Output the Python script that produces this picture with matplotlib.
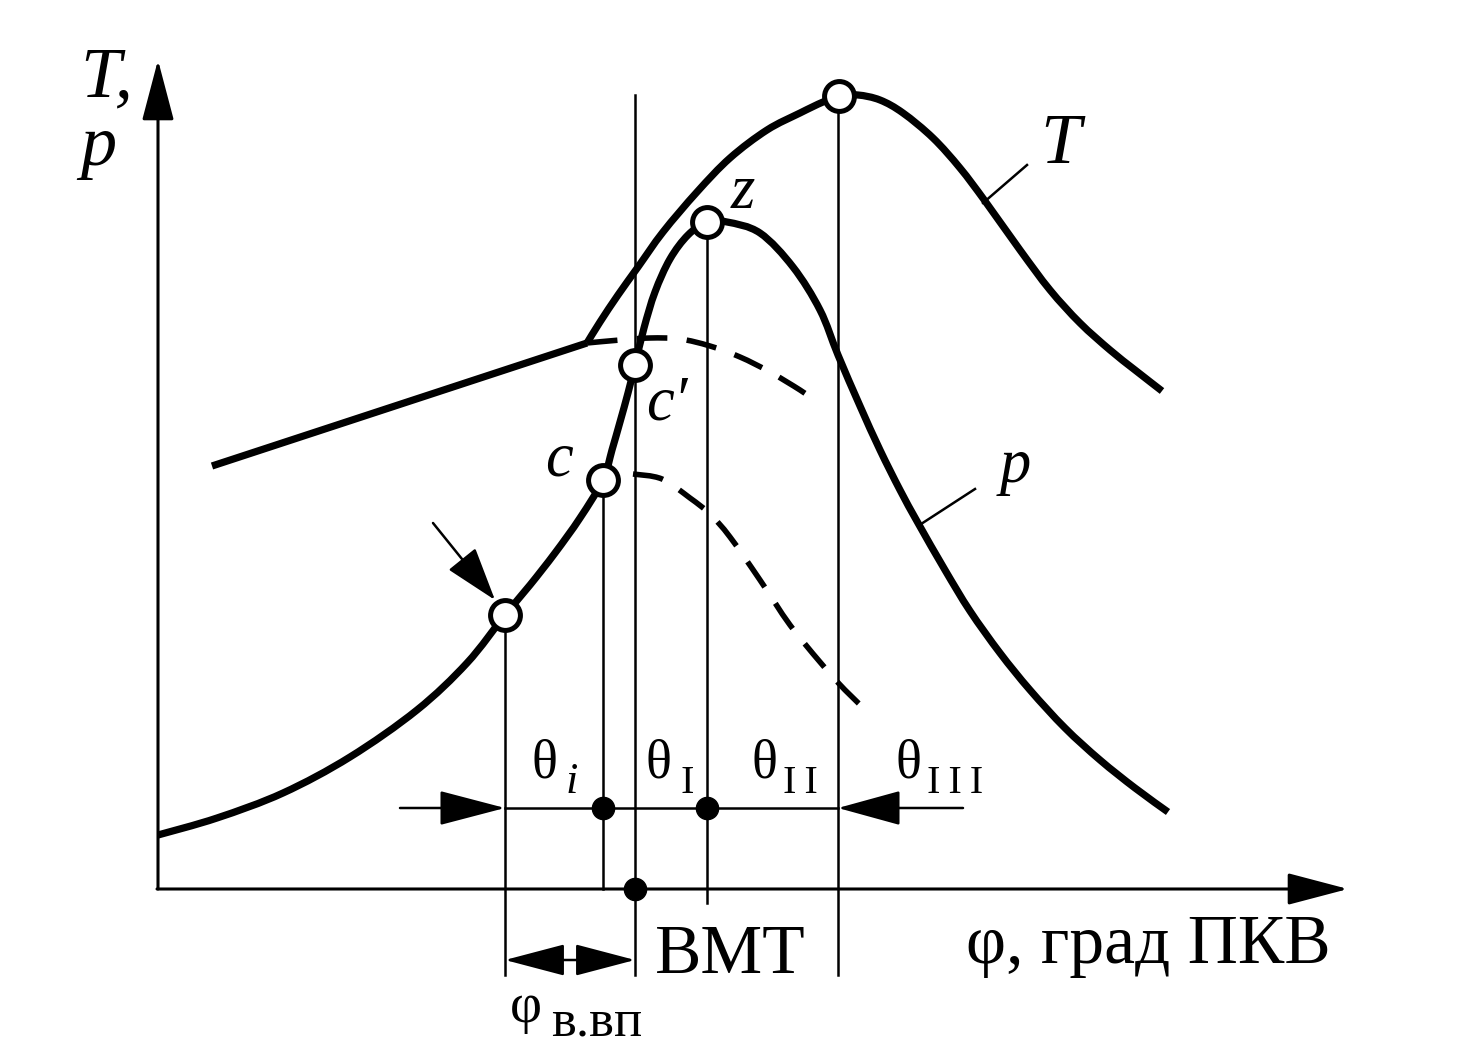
import matplotlib
matplotlib.use('Agg')
import matplotlib.pyplot as plt
from matplotlib.path import Path
from matplotlib.patches import PathPatch

# diagram is drawn in the pixel frame of the 1460x1063 reference (y grows downward)
W, H = 1460, 1063

# temperature: straight compression part, then the combustion hump
T_line_x = [212, 587]
T_line_y = [466, 343]
T_x = [587, 600, 618, 638, 663, 697, 730, 767, 800, 823, 840, 858, 880, 903, 933, 960, 985, 1020, 1050, 1080, 1110, 1135, 1162]
T_y = [343, 322, 295, 267, 232, 192, 158, 130, 113, 102, 96, 95, 100, 113, 138, 168, 201, 250, 290, 323, 350, 370, 391]

# pressure p
p_x = [158, 217, 283, 350, 417, 467, 505, 530, 555, 580, 603, 612, 620, 628, 635, 644, 655, 670, 688, 707,
       727, 760, 793, 820, 838, 860, 880, 900, 918, 945, 970, 1000, 1030, 1065, 1100, 1135, 1168]
p_y = [835, 818, 793, 757, 710, 663, 615, 585, 553, 518, 480, 450, 422, 393, 365, 328, 292, 259, 235, 222,
       222, 233, 267, 310, 355, 406, 450, 490, 523, 570, 611, 653, 690, 728, 760, 788, 812]

# motoring (no combustion) curves, dashed
T_mot_x = [587, 620, 650, 680, 710, 740, 770, 800, 816]
T_mot_y = [343, 340, 338, 339, 346, 357, 372, 390, 401]
p_mot_x = [633, 662, 690, 710, 730, 760, 790, 820, 845, 868]
p_mot_y = [474, 479, 498, 514, 537, 580, 625, 662, 690, 712]

# characteristic points: ignition, c, c', z, T max
pt_x = [505, 603, 635, 707, 839]
pt_y = [615, 480, 365, 222, 96]

# phase boundaries on the crank-angle axis
phase_x = [505, 603, 635, 707, 838]
phase_top = [615, 480, 95, 222, 96]
phase_bot = [975, 889, 975, 903, 975]

axis_y = 889
theta_y = 808
dots_x = [603, 707, 635]
dots_y = [808, 808, 889]

ink = 'black'
serif = ['Liberation Serif', 'DejaVu Serif']


def smooth(xs, ys):
    # Catmull-Rom through the read points, handed to matplotlib as cubic Bezier segments
    pts = list(zip(xs, ys))
    n = len(pts)
    verts, codes = [pts[0]], [Path.MOVETO]
    for i in range(n - 1):
        p0 = pts[i - 1] if i > 0 else pts[i]
        p1, p2 = pts[i], pts[i + 1]
        p3 = pts[i + 2] if i + 2 < n else p2
        c1 = (p1[0] + (p2[0] - p0[0]) / 6, p1[1] + (p2[1] - p0[1]) / 6)
        c2 = (p2[0] - (p3[0] - p1[0]) / 6, p2[1] - (p3[1] - p1[1]) / 6)
        verts += [c1, c2, p2]
        codes += [Path.CURVE4] * 3
    return Path(verts, codes)


fig = plt.figure(figsize=(W / 100, H / 100), dpi=100)
ax = fig.add_axes([0, 0, 1, 1])
ax.set_xlim(0, W)
ax.set_ylim(H, 0)
ax.axis('off')

ax.plot(T_line_x, T_line_y, color=ink, lw=5.2, solid_capstyle='butt')
for xs, ys in [(T_x, T_y), (p_x, p_y)]:
    ax.add_patch(PathPatch(smooth(xs, ys), fill=False, ec=ink, lw=5.2, capstyle='butt', joinstyle='round'))
for xs, ys in [(T_mot_x, T_mot_y), (p_mot_x, p_mot_y)]:
    ax.add_patch(PathPatch(smooth(xs, ys), fill=False, ec=ink, lw=4.0, ls=(0, (5.5, 3.5)), capstyle='butt'))

for x, y0, y1 in zip(phase_x, phase_top, phase_bot):
    ax.plot([x, x], [y0, y1], color=ink, lw=1.8)


def arrow(tail, tip, hl=4.0, hw=1.0, lw=1.8, style='-|>'):
    ax.annotate('', xy=tip, xytext=tail,
                arrowprops=dict(arrowstyle=f'{style},head_length={hl},head_width={hw}',
                                color=ink, lw=lw, shrinkA=0, shrinkB=0, mutation_scale=10))


# axes
arrow((157, axis_y), (1348, axis_y), hl=3.8, hw=1.0, lw=2.2)
arrow((158, axis_y), (158, 60), hl=3.8, hw=1.0, lw=2.2)

# combustion phases line with arrows from both sides
ax.plot([505, 838], [theta_y, theta_y], color=ink, lw=1.8)
arrow((400, theta_y), (505, theta_y), hl=4.2, hw=1.1)
arrow((963, theta_y), (838, theta_y), hl=4.0, hw=1.1)

# ignition advance angle
arrow((505, 960), (635, 960), hl=3.8, hw=1.0, style='<|-|>')

# pointer to the ignition point
arrow((433, 523), (495, 600), hl=3.4, hw=1.1)

# leaders for the T and p labels
ax.plot([983, 1027], [203, 165], color=ink, lw=1.8)
ax.plot([918, 975], [526, 489], color=ink, lw=1.8)

ax.plot(pt_x, pt_y, 'o', ms=21.5, mfc='white', mec=ink, mew=3.6, zorder=5)
ax.plot(dots_x, dots_y, 'o', ms=16, color=ink, zorder=5)


def txt(x, y, s, size, style='normal', **kw):
    ax.text(x, y, s, fontsize=size, family=serif, style=style, color=ink, ha='left', va='baseline', **kw)


# axis labels (baseline given for the last line)
txt(80, 165, 'T,\np', 52, 'italic', linespacing=1.07)
txt(966, 963, 'φ, град ПКВ', 50)
txt(655, 973, 'ВМТ', 50)

# point labels
txt(731, 208, 'z', 45, 'italic')
txt(545, 475, 'c', 45, 'italic')
txt(646, 420, 'c′', 45, 'italic')
txt(1040, 163, 'T', 52, 'italic')
txt(1000, 482, 'p', 45, 'italic')

# combustion phases
txt(532, 777, 'θ', 39)
txt(566, 793, 'i', 32, 'italic')
txt(646, 777, 'θ', 39)
txt(680, 793, 'I', 29)
txt(751, 777, 'θ', 39)
txt(783, 793, 'I\u2009I', 29)
txt(896, 777, 'θ', 39)
txt(927, 793, 'I\u2009I\u2009I', 29)

txt(510, 1022, 'φ', 40)
txt(551, 1035, 'в.вп', 38)

fig.savefig('out.png', dpi=100, facecolor='white')
